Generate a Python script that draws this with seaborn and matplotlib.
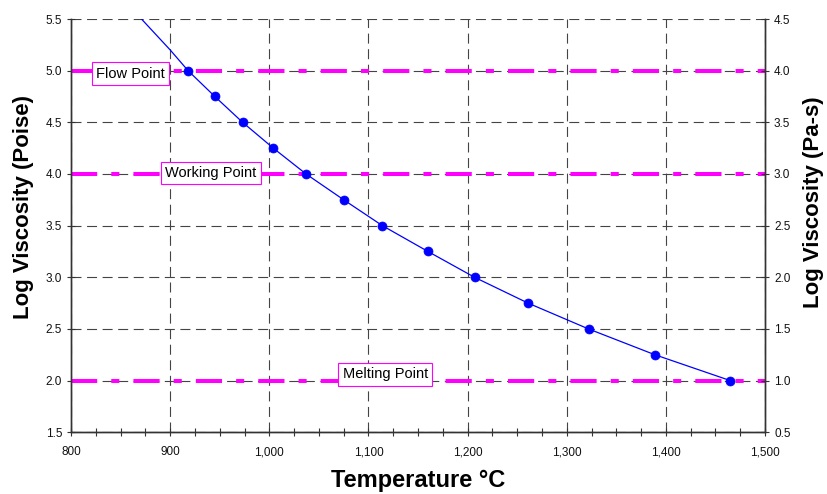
import numpy as np
import pandas as pd
import matplotlib.pyplot as plt
import matplotlib.ticker as mticker
import seaborn as sns

sns.set_theme(style="ticks")
plt.rcParams['font.family'] = ['Liberation Sans', 'DejaVu Sans']
plt.rcParams['text.color'] = 'black'
plt.rcParams['axes.labelcolor'] = 'black'

# measured viscosity points
temp = [918, 945, 973, 1004, 1037, 1075, 1114, 1160, 1207, 1261, 1322, 1389, 1465]
log_visc = [5.0, 4.75, 4.5, 4.25, 4.0, 3.75, 3.5, 3.25, 3.0, 2.75, 2.5, 2.25, 2.0]
# fitted curve carries on to the top of the chart
curve_temp = [871, 900] + temp
curve_visc = [5.5, 5.2] + log_visc

# reference levels
ref_names = ['Flow Point', 'Working Point', 'Melting Point']
ref_levels = [5.0, 4.0, 2.0]
label_x = [860, 941, 1117]
label_y = [4.97, 4.01, 2.06]

df = pd.DataFrame({'temp': temp, 'visc': log_visc})
curve = pd.DataFrame({'temp': curve_temp, 'visc': curve_visc})

fig, ax = plt.subplots(figsize=(8.27, 4.94), dpi=100)
fig.subplots_adjust(left=0.086, right=0.925, bottom=0.125, top=0.9615)

ax.set_xlim(800, 1500)
ax.set_ylim(1.5, 5.5)
ax.xaxis.set_major_locator(mticker.MultipleLocator(100))
ax.xaxis.set_minor_locator(mticker.MultipleLocator(25))
ax.yaxis.set_major_locator(mticker.MultipleLocator(0.5))
ax.xaxis.set_major_formatter(mticker.StrMethodFormatter('{x:,.0f}'))
ax.yaxis.set_major_formatter(mticker.StrMethodFormatter('{x:.1f}'))

ax.grid(True, which='major', color='#444444', lw=0.8, ls=(0, (9, 5)), zorder=0)
ax.set_axisbelow(True)

for lvl in ref_levels:
    ax.axhline(lvl, color='#ff00ff', lw=2.9, ls=(0, (6.5, 3.5, 2, 3.5)), zorder=2)

sns.lineplot(data=curve, x='temp', y='visc', ax=ax, color='#0000ff', lw=0.9,
             sort=True, estimator=None, zorder=3)
sns.scatterplot(data=df, x='temp', y='visc', ax=ax, color='#0000ff', s=42,
                edgecolor='#0000ff', linewidth=0.5, zorder=4)

for name, lx, ly in zip(ref_names, label_x, label_y):
    ax.text(lx, ly, name, fontsize=10.5, ha='center', va='center', zorder=5,
            color='black',
            bbox=dict(boxstyle='square,pad=0.3', fc='white', ec='#ff00ff', lw=0.8))

ax.set_xlabel('Temperature °C', fontsize=17, fontweight='bold', color='black')
ax.set_ylabel('Log Viscosity (Poise)', fontsize=16, fontweight='bold', color='black')
ax.xaxis.set_label_coords(0.5, -0.088)
ax.yaxis.set_label_coords(-0.054, 0.545)

ax2 = ax.twinx()
ax2.set_ylim(0.5, 4.5)
ax2.yaxis.set_major_locator(mticker.MultipleLocator(0.5))
ax2.yaxis.set_major_formatter(mticker.StrMethodFormatter('{x:.1f}'))
ax2.set_ylabel('Log Viscosity (Pa-s)', fontsize=16, fontweight='bold', color='black')
ax2.yaxis.set_label_coords(1.055, 0.556)

for a in (ax, ax2):
    a.spines['top'].set_visible(False)
    for s in ('left', 'right', 'bottom'):
        a.spines[s].set_color('#333333')
        a.spines[s].set_linewidth(1.0)
    a.tick_params(axis='both', which='both', direction='inout', length=6,
                  width=0.8, color='#333333', labelsize=8.5, labelcolor='#111111')
ax.tick_params(axis='x', pad=7)

plt.savefig('out.png', dpi=100)
